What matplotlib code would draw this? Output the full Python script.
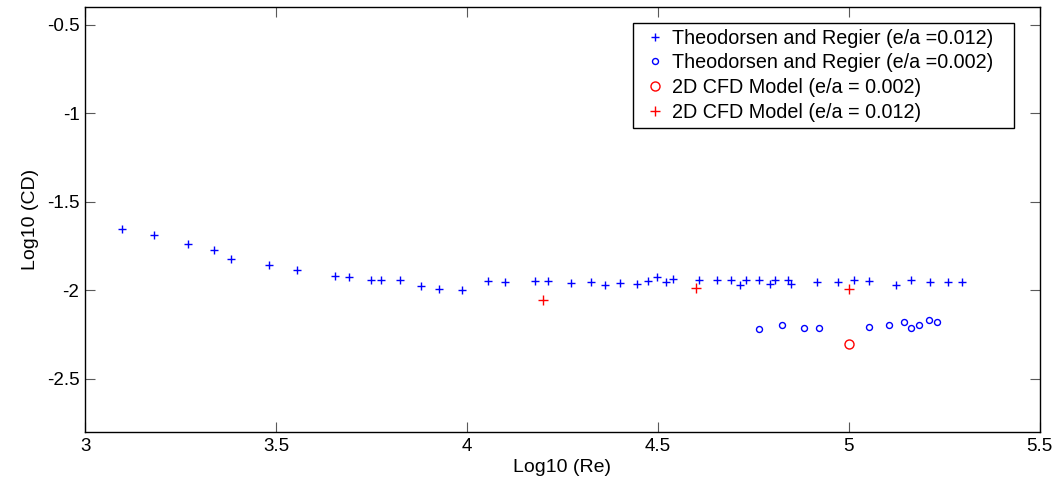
import matplotlib
matplotlib.use('Agg')
from matplotlib import pyplot as plt

# Theodorsen and Regier, e/a = 0.012
tr012_re = [3.096, 3.181, 3.269, 3.337, 3.381, 3.482, 3.554, 3.654, 3.691, 3.749,
            3.774, 3.824, 3.881, 3.927, 3.986, 4.056, 4.099, 4.178, 4.213, 4.274,
            4.325, 4.363, 4.402, 4.446, 4.475, 4.497, 4.522, 4.540, 4.608, 4.655,
            4.693, 4.715, 4.732, 4.765, 4.795, 4.806, 4.840, 4.848, 4.917, 4.973,
            5.015, 5.052, 5.125, 5.163, 5.212, 5.259, 5.298]
tr012_cd = [-1.651, -1.690, -1.741, -1.774, -1.823, -1.858, -1.883, -1.917, -1.922, -1.939,
            -1.943, -1.943, -1.973, -1.990, -1.998, -1.949, -1.955, -1.949, -1.949, -1.959,
            -1.953, -1.970, -1.960, -1.966, -1.945, -1.926, -1.953, -1.934, -1.939, -1.939,
            -1.939, -1.970, -1.939, -1.939, -1.964, -1.943, -1.942, -1.964, -1.955, -1.955,
            -1.942, -1.945, -1.970, -1.939, -1.951, -1.951, -1.951]

# Theodorsen and Regier, e/a = 0.002
tr002_re = [4.765, 4.825, 4.882, 4.922, 5.053, 5.105, 5.145, 5.162, 5.183, 5.209, 5.230]
tr002_cd = [-2.219, -2.198, -2.215, -2.211, -2.208, -2.194, -2.181, -2.213, -2.198, -2.170, -2.177]

# 2D CFD model
cfd002_re = [5.0]
cfd002_cd = [-2.305]
cfd012_re = [4.2, 4.6, 5.0]
cfd012_cd = [-2.055, -1.985, -1.995]

plt.rcParams['font.family'] = ['Liberation Sans', 'DejaVu Sans']

fig = plt.figure(figsize=(10.63, 4.83), dpi=100)
ax = fig.add_axes([0.080, 0.1056, 0.898, 0.880])

ax.plot(tr012_re, tr012_cd, '+', color='b', ms=5.5, mew=1.0,
        label='Theodorsen and Regier (e/a =0.012)')
ax.plot(tr002_re, tr002_cd, 'o', color='b', ms=4.3, mew=1.0, mfc='none',
        label='Theodorsen and Regier (e/a =0.002)')
ax.plot(cfd002_re, cfd002_cd, 'o', color='r', ms=6.5, mew=1.0, mfc='none',
        label='2D CFD Model (e/a = 0.002)')
ax.plot(cfd012_re, cfd012_cd, '+', color='r', ms=7.5, mew=1.0,
        label='2D CFD Model (e/a = 0.012)')

ax.set_xlim(3, 5.5)
ax.set_ylim(-2.8, -0.4)
ax.set_xticks([3, 3.5, 4, 4.5, 5, 5.5])
ax.set_xticklabels(['3', '3.5', '4', '4.5', '5', '5.5'])
ax.set_yticks([-2.5, -2, -1.5, -1, -0.5])
ax.set_yticklabels(['-2.5', '-2', '-1.5', '-1', '-0.5'])
ax.tick_params(direction='in', length=7, width=0.8, color='0.35',
               top=True, right=True, labelsize=13.5, pad=4)
for s in ax.spines.values():
    s.set_linewidth(1.0)
    s.set_color('black')

ax.set_xlabel('Log10 (Re)', fontsize=14, labelpad=3)
ax.set_ylabel('Log10 (CD)', fontsize=14, labelpad=6)

leg = ax.legend(loc='upper left', bbox_to_anchor=(0.574, 0.963, 0.399, 0),
                mode='expand', borderaxespad=0,
                fontsize=14.2, fancybox=False, edgecolor='black', framealpha=1,
                labelspacing=0.29, handletextpad=0.05, handlelength=1.62,
                borderpad=0.3, numpoints=1)
leg.get_frame().set_linewidth(1.0)

fig.savefig('out.png', dpi=100)
